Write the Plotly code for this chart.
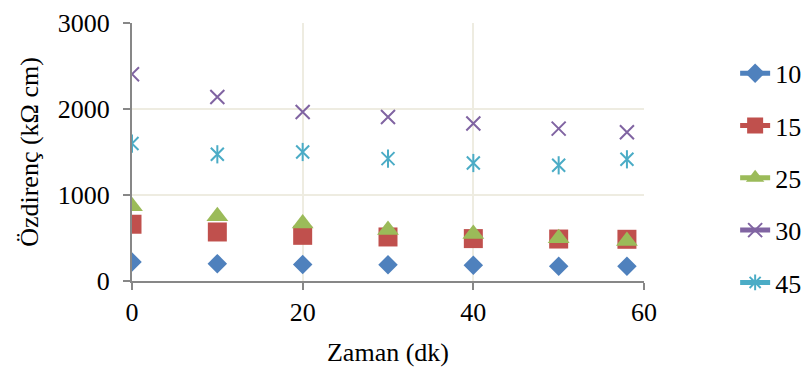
import plotly.graph_objects as go

# Time points (minutes)
zaman = [0, 10, 20, 30, 40, 50, 58]

# Resistivity series (kΩ cm), one list per sample
seri_10 = [221, 202, 191, 190, 183, 172, 171]
seri_15 = [660, 570, 531, 512, 493, 488, 485]
seri_25 = [868, 752, 670, 592, 546, 496, 466]
seri_30 = [2405, 2140, 1965, 1907, 1832, 1772, 1729]
seri_45 = [1598, 1473, 1500, 1423, 1372, 1345, 1415]

series_names = ["10", "15", "25", "30", "45"]
colors = ["#4F81BD", "#C0504D", "#9BBB59", "#8064A2", "#4BACC6"]

x_ticks = [0, 20, 40, 60]
y_ticks = [0, 1000, 2000, 3000]

FONT = "Liberation Serif, DejaVu Serif"
FS = 26
GRID = "#EEECE1"
AXIS = "#878787"

fig = go.Figure()

# Data markers (no connecting lines)
fig.add_trace(go.Scatter(x=zaman, y=seri_10, mode="markers", showlegend=False,
                         marker=dict(symbol="diamond", size=15, color=colors[0])))
fig.add_trace(go.Scatter(x=zaman, y=seri_15, mode="markers", showlegend=False,
                         marker=dict(symbol="square", size=19, color=colors[1])))
fig.add_trace(go.Scatter(x=zaman, y=seri_25, mode="markers", showlegend=False,
                         marker=dict(symbol="triangle-up", size=19, color=colors[2])))
fig.add_trace(go.Scatter(x=zaman, y=seri_30, mode="markers", showlegend=False,
                         marker=dict(symbol="x-thin", size=14, color=colors[3],
                                     line=dict(width=2, color=colors[3]))))
# six-armed star: diagonal cross plus a vertical stroke
fig.add_trace(go.Scatter(x=zaman, y=seri_45, mode="markers", showlegend=False,
                         marker=dict(symbol="x-thin", size=13, color=colors[4],
                                     line=dict(width=2, color=colors[4]))))
fig.add_trace(go.Scatter(x=zaman, y=seri_45, mode="markers", showlegend=False,
                         marker=dict(symbol="line-ns", size=13, color=colors[4],
                                     line=dict(width=2, color=colors[4]))))

# Legend entries: line with marker
legend_markers = [
    dict(symbol="diamond", size=15),
    dict(symbol="square", size=19),
    dict(symbol="triangle-up", size=19),
    dict(symbol="x-thin", size=14, line=dict(width=2)),
    dict(symbol="asterisk", size=13, line=dict(width=2)),
]
for name, col, mk in zip(series_names, colors, legend_markers):
    mk = dict(mk)
    mk["color"] = col
    if "line" in mk:
        mk["line"] = dict(width=2, color=col)
    fig.add_trace(go.Scatter(x=[None], y=[None], mode="lines+markers", name=name,
                             legendgroup=name,
                             line=dict(color=col, width=5), marker=mk))

fig.update_layout(
    width=805, height=368,
    margin=dict(l=132, r=161, t=23, b=87, autoexpand=False),
    paper_bgcolor="white", plot_bgcolor="white",
    font=dict(family=FONT, size=FS, color="black"),
    legend=dict(x=1.178, xanchor="left", y=0.40, yanchor="middle",
                traceorder="grouped", tracegroupgap=15.5, maxheight=368,
                font=dict(family=FONT, size=FS), bgcolor="rgba(0,0,0,0)"),
)

fig.update_xaxes(
    range=[0, 60], tickvals=x_ticks, ticktext=[str(v) for v in x_ticks],
    showgrid=True, gridcolor=GRID, gridwidth=1.5,
    showline=True, linecolor=AXIS, linewidth=2,
    ticks="outside", ticklen=7, tickcolor=AXIS, tickwidth=2,
    zeroline=False,
    title=dict(text="Zaman (dk)", font=dict(family=FONT, size=FS), standoff=17),
    tickfont=dict(family=FONT, size=FS),
)
fig.update_yaxes(
    range=[0, 3000], tickvals=y_ticks, ticktext=[str(v) for v in y_ticks],
    showgrid=True, gridcolor=GRID, gridwidth=1.5,
    showline=True, linecolor=AXIS, linewidth=2,
    ticks="outside", ticklen=7, tickcolor=AXIS, tickwidth=2,
    zeroline=False, ticklabelstandoff=8,
    title=dict(text="Özdirenç (kΩ cm)", font=dict(family=FONT, size=FS), standoff=12),
    tickfont=dict(family=FONT, size=FS),
)

fig.write_html("out.html")
